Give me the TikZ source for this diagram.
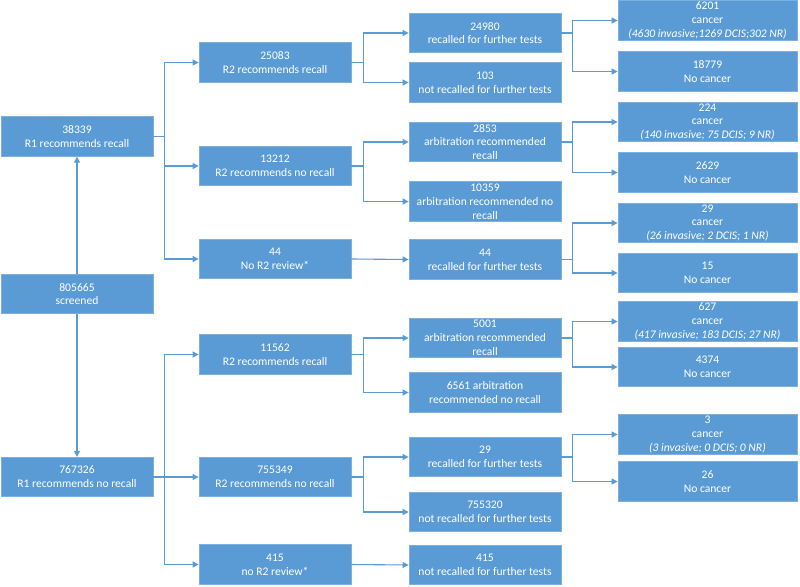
\documentclass[tikz,border=0pt]{standalone}
\usepackage{fontspec}
\setmainfont{Carlito}
\usetikzlibrary{arrows.meta}
\definecolor{boxblue}{RGB}{91,155,213}
\definecolor{boxedge}{RGB}{125,176,222}
\tikzset{
  box/.style={rectangle, fill=boxblue, draw=boxedge, line width=0.8pt, text=white,
    align=center, inner sep=0pt, minimum height=39.5pt, font=\fontsize{11.6}{13.8}\selectfont},
  c123/.style={box, minimum width=152pt},
  c4/.style={box, minimum width=179pt},
  conn/.style={draw=boxblue, line width=1.1pt, -{Triangle[length=6pt,width=6pt]}}
}
\begin{document}
\begin{tikzpicture}[x=1pt,y=-1pt]
\useasboundingbox (0,0) rectangle (800,586);
% column 1
\node[c123] (n38339) at (77,136.5) {38339\\R1 recommends recall};
\node[c123] (n805665) at (77,294) {805665\\screened};
\node[c123] (n767326) at (77,477) {767326\\R1 recommends no recall};
% column 2
\node[c123] (n25083) at (275,62.5) {25083\\R2 recommends recall};
\node[c123] (n13212) at (275,166) {13212\\R2 recommends no recall};
\node[c123] (n44a) at (275,259) {44\\No R2 review*};
\node[c123] (n11562) at (275,354.5) {11562\\R2 recommends recall};
\node[c123] (n755349) at (275,477) {755349\\R2 recommends no recall};
\node[c123] (n415a) at (275,564.5) {415\\no R2 review*};
% column 3
\node[c123] (n24980) at (485,33) {24980\\recalled for further tests};
\node[c123] (n103) at (485,82.5) {103\\not recalled for further tests};
\node[c123] (n2853) at (485,142) {2853\\arbitration recommended\\recall};
\node[c123] (n10359) at (485,201.5) {10359\\arbitration recommended no\\recall};
\node[c123] (n44b) at (485,259.5) {44\\recalled for further tests};
\node[c123] (n5001) at (485,338) {5001\\arbitration recommended\\recall};
\node[c123] (n6561) at (485,392.5) {6561 arbitration\\recommended no recall};
\node[c123] (n29b) at (485,457) {29\\recalled for further tests};
\node[c123] (n755320) at (485,512) {755320\\not recalled for further tests};
\node[c123] (n415b) at (485,565) {415\\not recalled for further tests};
% column 4
\node[c4] (n6201) at (707.5,20.5) {6201\\cancer\\\textit{(4630 invasive;1269 DCIS;302 NR)}};
\node[c4] (n18779) at (707.5,71.5) {18779\\No cancer};
\node[c4] (n224) at (707.5,122) {224\\cancer\\\textit{(140 invasive; 75 DCIS; 9 NR)}};
\node[c4] (n2629) at (707.5,172.5) {2629\\No cancer};
\node[c4] (n29c) at (707.5,223) {29\\cancer\\\textit{(26 invasive; 2 DCIS; 1 NR)}};
\node[c4] (n15) at (707.5,273) {15\\No cancer};
\node[c4] (n627) at (707.5,321.5) {627\\cancer\\\textit{(417 invasive; 183 DCIS; 27 NR)}};
\node[c4] (n4374) at (707.5,367) {4374\\No cancer};
\node[c4] (n3c) at (707.5,434.5) {3\\cancer\\\textit{(3 invasive; 0 DCIS; 0 NR)}};
\node[c4] (n26) at (707.5,481.5) {26\\No cancer};
% connectors
\draw[conn] (n805665.north) -- (n38339.south);
\draw[conn] (n805665.south) -- (n767326.north);
\foreach \t in {n25083,n13212,n44a} \draw[conn] (n38339.east) -- ++(11,0) |- (\t.west);
\foreach \t in {n11562,n755349,n415a} \draw[conn] (n767326.east) -- ++(11,0) |- (\t.west);
\foreach \t in {n24980,n103} \draw[conn] (n25083.east) -- ++(12,0) |- (\t.west);
\foreach \t in {n2853,n10359} \draw[conn] (n13212.east) -- ++(12,0) |- (\t.west);
\draw[conn] (n44a.east) -- (n44b.west);
\foreach \t in {n5001,n6561} \draw[conn] (n11562.east) -- ++(12,0) |- (\t.west);
\foreach \t in {n29b,n755320} \draw[conn] (n755349.east) -- ++(12,0) |- (\t.west);
\draw[conn] (n415a.east) -- (n415b.west);
\foreach \t in {n6201,n18779} \draw[conn] (n24980.east) -- ++(11,0) |- (\t.west);
\foreach \t in {n224,n2629} \draw[conn] (n2853.east) -- ++(11,0) |- (\t.west);
\foreach \t in {n29c,n15} \draw[conn] (n44b.east) -- ++(11,0) |- (\t.west);
\foreach \t in {n627,n4374} \draw[conn] (n5001.east) -- ++(11,0) |- (\t.west);
\foreach \t in {n3c,n26} \draw[conn] (n29b.east) -- ++(11,0) |- (\t.west);
\end{tikzpicture}
\end{document}
